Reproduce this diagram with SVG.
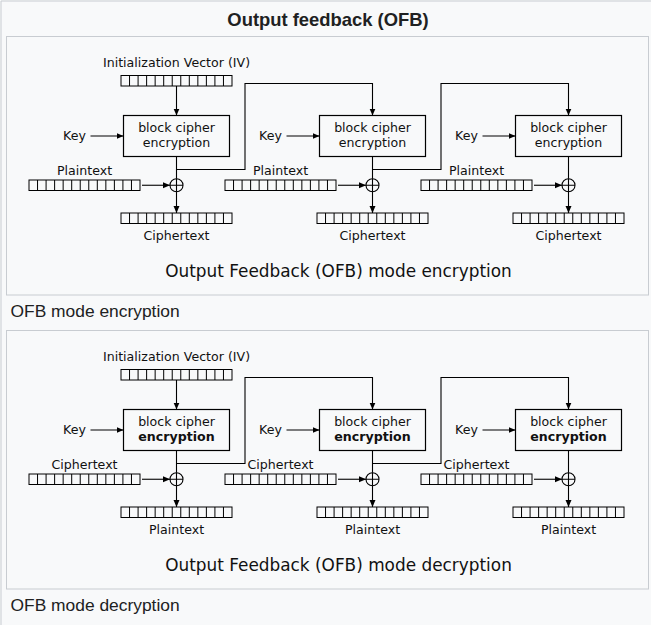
<svg xmlns="http://www.w3.org/2000/svg" xmlns:xlink="http://www.w3.org/1999/xlink" width="651" height="625" viewBox="0 0 651 625">
<style>
.frame{fill:#f8f9fa;stroke:#c8ccd1;stroke-width:1}
.t{font-family:"DejaVu Sans",Verdana,sans-serif;font-size:12.6px;fill:#111;text-anchor:middle}
.big{font-family:"DejaVu Sans",Verdana,sans-serif;font-size:16.9px;fill:#111;text-anchor:middle}
.cap{font-family:"Liberation Sans",Arial,sans-serif;font-size:17.4px;fill:#202122}
.title{font-family:"Liberation Sans",Arial,sans-serif;font-size:18.4px;font-weight:bold;fill:#202122;text-anchor:middle}
.box{fill:none;stroke:#000;stroke-width:1.2}
.reg{fill:none;stroke:#000;stroke-width:1}
.con{fill:none;stroke:#000;stroke-width:1.1}
.arr{marker-end:url(#ah)}
</style>
<defs>
<marker id="ah" markerUnits="userSpaceOnUse" markerWidth="8" markerHeight="7" refX="7" refY="3.5" orient="auto">
<path d="M0,0.5 L7,3.5 L0,6.5 z" fill="#000"/>
</marker>
<g id="reg">
<rect class="reg" x="0" y="0" width="111" height="10.5"/>
<path class="reg" d="M8.54 0v10.5M17.08 0v10.5M25.62 0v10.5M34.15 0v10.5M42.69 0v10.5M51.23 0v10.5M59.77 0v10.5M68.31 0v10.5M76.85 0v10.5M85.38 0v10.5M93.92 0v10.5M102.46 0v10.5"/>
</g>
<g id="xor">
<circle cx="0" cy="0" r="6.5" fill="none" stroke="#000" stroke-width="1.1"/>
<path d="M-6.5 0H6.5M0 -6.5V6.5" stroke="#000" stroke-width="1.1"/>
</g>
</defs>
<rect x="0" y="0" width="651" height="625" fill="#f8f9fa"/>
<path d="M1 625V1H651" fill="none" stroke="#c8ccd1" stroke-width="1"/>
<text class="title" x="328" y="26">Output feedback (OFB)</text>

<!-- Panel 1: encryption -->
<g id="panel-enc">
<rect class="frame" x="6.5" y="36.5" width="642" height="258.5"/>
<g id="enc-iv">
<text class="t" x="176.5" y="66.5">Initialization Vector (IV)</text>
<use xlink:href="#reg" x="121" y="75.5"/>
</g>
<g id="enc-block1">
<rect class="box" x="123.5" y="115.5" width="106" height="41"/>
<text class="t" x="176.5" y="131.5">block cipher</text>
<text class="t" x="176.5" y="147">encryption</text>
</g>
<g id="enc-block2">
<rect class="box" x="319.5" y="115.5" width="106" height="41"/>
<text class="t" x="372.5" y="131.5">block cipher</text>
<text class="t" x="372.5" y="147">encryption</text>
</g>
<g id="enc-block3">
<rect class="box" x="515.5" y="115.5" width="106" height="41"/>
<text class="t" x="568.5" y="131.5">block cipher</text>
<text class="t" x="568.5" y="147">encryption</text>
</g>
<g id="enc-key1"><text class="t" x="74.5" y="139.5">Key</text></g>
<g id="enc-key2"><text class="t" x="270.5" y="139.5">Key</text></g>
<g id="enc-key3"><text class="t" x="466.5" y="139.5">Key</text></g>
<g id="enc-in1"><text class="t" x="84.5" y="174.5">Plaintext</text><use xlink:href="#reg" x="29" y="180"/></g>
<g id="enc-in2"><text class="t" x="280.5" y="174.5">Plaintext</text><use xlink:href="#reg" x="225" y="180"/></g>
<g id="enc-in3"><text class="t" x="476.5" y="174.5">Plaintext</text><use xlink:href="#reg" x="421" y="180"/></g>
<g id="enc-xor1"><use xlink:href="#xor" x="176.5" y="185.25"/></g>
<g id="enc-xor2"><use xlink:href="#xor" x="372.5" y="185.25"/></g>
<g id="enc-xor3"><use xlink:href="#xor" x="568.5" y="185.25"/></g>
<g id="enc-out1"><use xlink:href="#reg" x="121" y="213"/><text class="t" x="176.5" y="240">Ciphertext</text></g>
<g id="enc-out2"><use xlink:href="#reg" x="317" y="213"/><text class="t" x="372.5" y="240">Ciphertext</text></g>
<g id="enc-out3"><use xlink:href="#reg" x="513" y="213"/><text class="t" x="568.5" y="240">Ciphertext</text></g>
<g id="enc-connectors">
<path class="con arr" d="M176.5 86V115.5"/>
<path class="con arr" d="M90.5 136H123.5"/>
<path class="con arr" d="M286.5 136H319.5"/>
<path class="con arr" d="M482.5 136H515.5"/>
<path class="con" d="M176.5 156.5V178.75M372.5 156.5V178.75M568.5 156.5V178.75"/>
<path class="con arr" d="M142 185.25H170"/>
<path class="con arr" d="M338 185.25H366"/>
<path class="con arr" d="M534 185.25H562"/>
<path class="con arr" d="M176.5 191.75V213"/>
<path class="con arr" d="M372.5 191.75V213"/>
<path class="con arr" d="M568.5 191.75V213"/>
<path class="con arr" d="M176.5 169.5H245V83.5H372.5V115.5"/>
<path class="con arr" d="M372.5 169.5H441V83.5H568.5V115.5"/>
</g>
<text class="big" x="338.5" y="277">Output Feedback (OFB) mode encryption</text>
</g>
<text class="cap" x="10.5" y="317">OFB mode encryption</text>

<!-- Panel 2: decryption -->
<g id="panel-dec" transform="translate(0,294)">
<rect class="frame" x="6.5" y="36.5" width="642" height="258.5"/>
<g id="dec-iv">
<text class="t" x="176.5" y="66.5">Initialization Vector (IV)</text>
<use xlink:href="#reg" x="121" y="75.5"/>
</g>
<g id="dec-block1">
<rect class="box" x="123.5" y="115.5" width="106" height="41"/>
<text class="t" x="176.5" y="131.5">block cipher</text>
<text class="t" x="176.5" y="147" font-weight="bold">encryption</text>
</g>
<g id="dec-block2">
<rect class="box" x="319.5" y="115.5" width="106" height="41"/>
<text class="t" x="372.5" y="131.5">block cipher</text>
<text class="t" x="372.5" y="147" font-weight="bold">encryption</text>
</g>
<g id="dec-block3">
<rect class="box" x="515.5" y="115.5" width="106" height="41"/>
<text class="t" x="568.5" y="131.5">block cipher</text>
<text class="t" x="568.5" y="147" font-weight="bold">encryption</text>
</g>
<g id="dec-key1"><text class="t" x="74.5" y="139.5">Key</text></g>
<g id="dec-key2"><text class="t" x="270.5" y="139.5">Key</text></g>
<g id="dec-key3"><text class="t" x="466.5" y="139.5">Key</text></g>
<g id="dec-in1"><text class="t" x="84.5" y="174.5">Ciphertext</text><use xlink:href="#reg" x="29" y="180"/></g>
<g id="dec-in2"><text class="t" x="280.5" y="174.5">Ciphertext</text><use xlink:href="#reg" x="225" y="180"/></g>
<g id="dec-in3"><text class="t" x="476.5" y="174.5">Ciphertext</text><use xlink:href="#reg" x="421" y="180"/></g>
<g id="dec-xor1"><use xlink:href="#xor" x="176.5" y="185.25"/></g>
<g id="dec-xor2"><use xlink:href="#xor" x="372.5" y="185.25"/></g>
<g id="dec-xor3"><use xlink:href="#xor" x="568.5" y="185.25"/></g>
<g id="dec-out1"><use xlink:href="#reg" x="121" y="213"/><text class="t" x="176.5" y="240">Plaintext</text></g>
<g id="dec-out2"><use xlink:href="#reg" x="317" y="213"/><text class="t" x="372.5" y="240">Plaintext</text></g>
<g id="dec-out3"><use xlink:href="#reg" x="513" y="213"/><text class="t" x="568.5" y="240">Plaintext</text></g>
<g id="dec-connectors">
<path class="con arr" d="M176.5 86V115.5"/>
<path class="con arr" d="M90.5 136H123.5"/>
<path class="con arr" d="M286.5 136H319.5"/>
<path class="con arr" d="M482.5 136H515.5"/>
<path class="con" d="M176.5 156.5V178.75M372.5 156.5V178.75M568.5 156.5V178.75"/>
<path class="con arr" d="M142 185.25H170"/>
<path class="con arr" d="M338 185.25H366"/>
<path class="con arr" d="M534 185.25H562"/>
<path class="con arr" d="M176.5 191.75V213"/>
<path class="con arr" d="M372.5 191.75V213"/>
<path class="con arr" d="M568.5 191.75V213"/>
<path class="con arr" d="M176.5 169.5H245V83.5H372.5V115.5"/>
<path class="con arr" d="M372.5 169.5H441V83.5H568.5V115.5"/>
</g>
<text class="big" x="338.5" y="277">Output Feedback (OFB) mode decryption</text>
</g>
<text class="cap" x="10.5" y="611">OFB mode decryption</text>
</svg>
